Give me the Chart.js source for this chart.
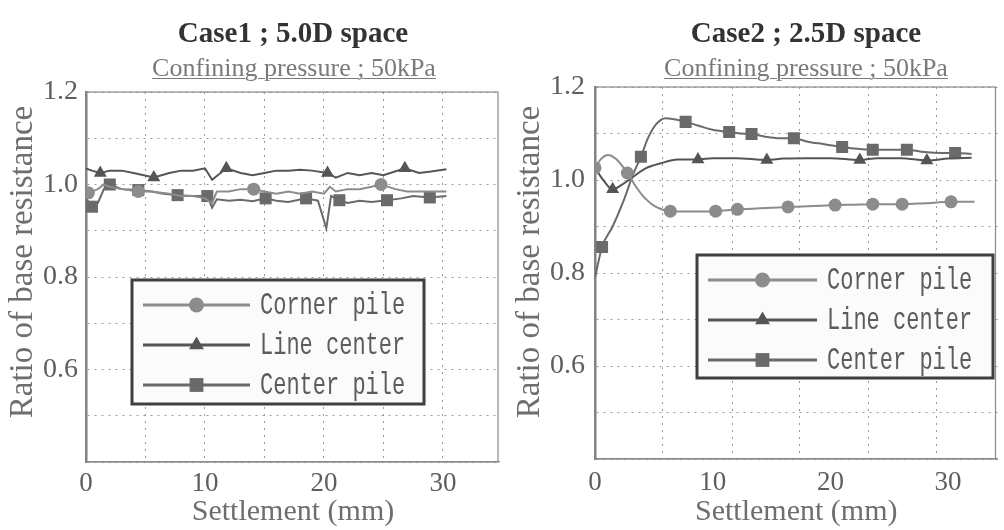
<!DOCTYPE html>
<html>
<head>
<meta charset="utf-8">
<script src="https://cdn.jsdelivr.net/npm/chart.js@4.4.1/dist/chart.umd.min.js"></script>
<style>
  html, body { margin: 0; padding: 0; background: #ffffff; }
  #wrap { position: relative; width: 1004px; height: 530px; overflow: hidden; background: #fff; }
  canvas { position: absolute; top: 0; }
  .ttl { position: absolute; width: 420px; text-align: center; font-family: "Liberation Serif", serif;
         white-space: nowrap; z-index: 2; }
  .main { font-weight: bold; font-size: 29px; line-height: 36px; color: #333; top: 14px; }
  .sub { font-size: 26px; line-height: 30px; color: #7a7a7a; top: 53px; }
  .sub span { text-decoration: underline; text-decoration-thickness: 1px; text-underline-offset: 2px; }
</style>
</head>
<body>
<div id="wrap">
  <canvas id="c1" width="500" height="530" style="left:0"></canvas>
  <canvas id="c2" width="504" height="530" style="left:500px"></canvas>
  <div class="ttl main" style="left:83px">Case1 ; 5.0D space</div>
  <div class="ttl sub" style="left:84px"><span>Confining pressure ; 50kPa</span></div>
  <div class="ttl main" style="left:596px">Case2 ; 2.5D space</div>
  <div class="ttl sub" style="left:596px"><span>Confining pressure ; 50kPa</span></div>
</div>
<script>
// ---- Shared labels ----
const seriesNames = ['Corner pile', 'Line center', 'Center pile'];
const yTickLabels = ['0.6', '0.8', '1.0', '1.2'];
const xTickLabels = ['0', '10', '20', '30'];
const yTitle = 'Ratio of base resistance';
const xTitle = 'Settlement (mm)';

// ---- Case 1 (5.0D spacing): settlement (mm) vs ratio of base resistance ----
const c1CornerX = [0, 0.2, 1, 1.5, 2, 3, 4.4, 5.5, 7, 8, 9, 10, 10.6, 11, 12, 13, 14.1, 15, 16, 17, 18, 19, 20, 20.5, 21, 22, 23, 24, 24.8, 26, 27, 28, 29, 30.3];
const c1CornerY = [0.99, 0.982, 0.99, 1.0, 0.995, 0.99, 0.985, 0.985, 0.98, 0.975, 0.975, 0.97, 0.96, 0.985, 0.985, 0.99, 0.99, 0.985, 0.98, 0.985, 0.98, 0.985, 0.98, 0.995, 0.985, 0.99, 0.99, 0.995, 1.0, 0.99, 0.985, 0.985, 0.985, 0.985];
const c1CornerMarks = [1, 6, 16, 28];

const c1LineX = [0, 0.5, 1.2, 2, 3, 4, 5.7, 7, 8, 9, 10, 10.6, 11.8, 13, 14, 15, 16, 17, 18, 19, 20.3, 21, 22, 23, 24, 25, 26.8, 28, 29, 30.3];
const c1LineY = [1.035, 1.03, 1.025, 1.03, 1.03, 1.025, 1.015, 1.025, 1.03, 1.03, 1.035, 1.01, 1.035, 1.025, 1.02, 1.025, 1.03, 1.03, 1.032, 1.03, 1.025, 1.015, 1.025, 1.02, 1.025, 1.02, 1.035, 1.025, 1.028, 1.033];
const c1LineMarks = [2, 6, 12, 20, 26];

const c1CenterX = [0, 0.5, 1, 1.5, 2, 3, 4.4, 5.5, 6.5, 7.7, 9, 10.2, 10.6, 11, 12, 13, 14, 15.1, 16, 17, 18.5, 19.5, 20.2, 20.6, 21.3, 22, 23, 24, 25.3, 26.5, 27.5, 28.9, 30.3];
const c1CenterY = [0.97, 0.952, 0.96, 0.99, 1.0, 0.99, 0.988, 0.985, 0.98, 0.977, 0.975, 0.975, 0.95, 0.968, 0.965, 0.967, 0.964, 0.97, 0.965, 0.962, 0.97, 0.965, 0.905, 0.975, 0.966, 0.96, 0.965, 0.962, 0.966, 0.97, 0.975, 0.972, 0.975];
const c1CenterMarks = [1, 4, 6, 9, 11, 17, 20, 24, 28, 31];

// ---- Case 2 (2.5D spacing) ----
const c2CornerX = [0, 0.5, 1.1, 1.8, 2.75, 3.5, 4.2, 5, 6.4, 8, 10.25, 12.1, 14, 16.4, 18.5, 20.4, 22, 23.6, 26.1, 28, 30.25, 32.25];
const c2CornerY = [1.026, 1.045, 1.054, 1.045, 1.015, 0.985, 0.962, 0.945, 0.933, 0.932, 0.933, 0.937, 0.939, 0.942, 0.944, 0.946, 0.947, 0.948, 0.948, 0.95, 0.953, 0.953];
const c2CornerMarks = [0, 4, 8, 10, 11, 13, 15, 17, 18, 20];

const c2LineX = [0, 0.7, 1.5, 2.3, 3.2, 4.3, 5.6, 7, 8.75, 10, 12, 14.6, 16, 18, 20, 22.5, 24, 26, 28.2, 30, 32];
const c2LineY = [1.026, 1.0, 0.98, 0.99, 1.006, 1.025, 1.036, 1.044, 1.044, 1.047, 1.047, 1.043, 1.046, 1.047, 1.047, 1.043, 1.047, 1.047, 1.042, 1.046, 1.048];
const c2LineMarks = [2, 8, 11, 15, 18];

const c2CenterX = [0, 0.6, 1.5, 2.5, 3.2, 3.9, 4.5, 5.2, 6, 7.7, 9, 10, 11.4, 12.3, 13.3, 14.5, 15.5, 16.9, 18, 19.5, 21, 22.3, 23.6, 25, 26.5, 28, 29.5, 30.6, 32];
const c2CenterY = [0.79, 0.856, 0.9, 0.96, 1.01, 1.05, 1.09, 1.12, 1.133, 1.125, 1.115, 1.108, 1.103, 1.1, 1.099, 1.093, 1.09, 1.09, 1.083, 1.077, 1.071, 1.067, 1.065, 1.065, 1.065, 1.06, 1.058, 1.058, 1.056];
const c2CenterMarks = [1, 5, 9, 12, 14, 17, 20, 22, 24, 27];

// vertical grid positions of the Case 2 frame
const c2GridX = [5.7, 11.7, 17.4, 23.2, 29.0];

// ---- styling ----
const seriesStyle = [
  { color: '#8c8c8c', marker: 'circle',   radius: 6.5 },
  { color: '#555555', marker: 'triangle', radius: 7.5 },
  { color: '#6a6a6a', marker: 'rect',     radius: 8.5 }
];
const serif = 'Liberation Serif';
const gridColor = '#9a9a9a';

function pts(xs, ys) { return xs.map((x, i) => ({ x: x, y: ys[i] })); }

function makeDataset(k, xs, ys, marks, smooth) {
  const st = seriesStyle[k];
  return {
    label: seriesNames[k],
    data: pts(xs, ys),
    borderColor: st.color,
    backgroundColor: st.color,
    borderWidth: 2,
    pointStyle: st.marker,
    pointRadius: ctx => marks.includes(ctx.dataIndex) ? st.radius : 0,
    pointBorderWidth: 0,
    pointHoverRadius: 0,
    tension: smooth ? 0.4 : 0,
    cubicInterpolationMode: smooth ? 'monotone' : 'default'
  };
}

// Boxed legend drawn inside the plot area
const boxLegend = {
  id: 'boxLegend',
  afterDatasetsDraw(chart, args, opts) {
    const ctx = chart.ctx;
    const b = opts.box;
    ctx.save();
    ctx.fillStyle = '#fbfbfb';
    ctx.fillRect(b.x, b.y, b.w, b.h);
    ctx.strokeStyle = '#3f3f3f';
    ctx.lineWidth = 3;
    ctx.strokeRect(b.x, b.y, b.w, b.h);
    chart.data.datasets.forEach((ds, i) => {
      const st = seriesStyle[i];
      const ry = b.y + opts.rowTop + i * opts.rowGap;
      ctx.strokeStyle = st.color;
      ctx.lineWidth = 3;
      ctx.beginPath();
      ctx.moveTo(b.x + opts.lineStart, ry);
      ctx.lineTo(b.x + opts.lineEnd, ry);
      ctx.stroke();
      ctx.fillStyle = st.color;
      Chart.helpers.drawPoint(ctx, { pointStyle: st.marker, radius: st.radius * 1.15, rotation: 0, borderWidth: 0 },
        b.x + (opts.lineStart + opts.lineEnd) / 2, ry);
      ctx.save();
      ctx.translate(b.x + opts.textX, ry + 1);
      ctx.scale(1, 1.45);
      ctx.font = '22px "Liberation Mono"';
      ctx.fillStyle = '#5c5c5c';
      ctx.textBaseline = 'middle';
      ctx.fillText(ds.label, 0, 0);
      ctx.restore();
    });
    ctx.restore();
  }
};

// Plot frame and the rotated y-axis caption
const frame = {
  id: 'frame',
  beforeDatasetsDraw(chart, args, opts) {
    const a = chart.chartArea, ctx = chart.ctx;
    ctx.save();
    ctx.strokeStyle = '#8a8a8a';
    ctx.lineWidth = 1.2;
    ctx.strokeRect(a.left, a.top, a.right - a.left - 2, a.bottom - a.top);
    ctx.translate(opts.titleX, opts.titleY);
    ctx.rotate(-Math.PI / 2);
    ctx.font = '33px "' + serif + '"';
    ctx.fillStyle = '#6e6e6e';
    ctx.textAlign = 'center';
    ctx.textBaseline = 'middle';
    ctx.fillText(yTitle, 0, 0);
    ctx.restore();
  }
};

function yLabel(v) {
  const s = (Math.round(v * 10) / 10).toFixed(1);
  return yTickLabels.includes(s) ? s : '';
}
function xLabel(v) {
  const s = String(Math.round(v));
  return xTickLabels.includes(s) && Math.abs(v - Math.round(v)) < 1e-6 ? s : '';
}

function yAxis(axisWidth, tickPad) {
  return {
    min: 0.4, max: 1.2,
    afterFit: s => { s.width = axisWidth; },
    ticks: { stepSize: 0.1, callback: yLabel, color: '#5e5e5e', padding: tickPad,
             font: { family: serif, size: 28 } },
    grid: { color: gridColor, lineWidth: 1, drawTicks: false },
    border: { display: true, color: '#7a7a7a', width: 2.5, dash: [2, 5] }
  };
}

// x axis box: fixed height, no side overhang reserved for labels
function xFit(h) {
  return s => { s.height = h; s.paddingLeft = 0; s.paddingRight = 0; };
}

Chart.defaults.animation = false;

// ---- Case 1 chart ----
new Chart(document.getElementById('c1'), {
  type: 'line',
  data: {
    datasets: [
      makeDataset(0, c1CornerX, c1CornerY, c1CornerMarks, false),
      makeDataset(1, c1LineX, c1LineY, c1LineMarks, false),
      makeDataset(2, c1CenterX, c1CenterY, c1CenterMarks, false)
    ]
  },
  options: {
    responsive: false,
    devicePixelRatio: 1,
    layout: { padding: { top: 92, left: 0, right: 0, bottom: 0 } },
    plugins: {
      legend: { display: false }, tooltip: { enabled: false },
      frame: { titleX: 23, titleY: 262 },
      boxLegend: { box: { x: 132, y: 280, w: 292, h: 124 }, rowTop: 25, rowGap: 40,
                   lineStart: 11, lineEnd: 118, textX: 128 }
    },
    scales: {
      x: {
        type: 'linear', min: 0, max: 34.8,
        afterFit: xFit(68),
        ticks: { stepSize: 5, callback: xLabel, color: '#5e5e5e', padding: 6, maxRotation: 0,
                 autoSkip: false, includeBounds: false, font: { family: serif, size: 27 } },
        grid: { color: gridColor, lineWidth: 1, drawTicks: false },
        border: { display: true, color: '#8a8a8a', width: 1.2, dash: [2, 5] },
        title: { display: true, text: xTitle, color: '#6e6e6e',
                 font: { family: serif, size: 30 }, padding: { top: 0, bottom: 0 } }
      },
      y: yAxis(86, 8)
    }
  },
  plugins: [frame, boxLegend]
});

// ---- Case 2 chart ----
new Chart(document.getElementById('c2'), {
  type: 'line',
  data: {
    datasets: [
      makeDataset(0, c2CornerX, c2CornerY, c2CornerMarks, true),
      makeDataset(1, c2LineX, c2LineY, c2LineMarks, true),
      makeDataset(2, c2CenterX, c2CenterY, c2CenterMarks, true)
    ]
  },
  options: {
    responsive: false,
    devicePixelRatio: 1,
    layout: { padding: { top: 87, left: 0, right: 0, bottom: 0 } },
    plugins: {
      legend: { display: false }, tooltip: { enabled: false },
      frame: { titleX: 30, titleY: 262 },
      boxLegend: { box: { x: 197, y: 255, w: 296, h: 123 }, rowTop: 25, rowGap: 40,
                   lineStart: 11, lineEnd: 120, textX: 130 }
    },
    scales: {
      x: {
        type: 'linear', min: 0, max: 34.2,
        afterFit: xFit(71),
        ticks: { stepSize: 10, callback: xLabel, color: '#5e5e5e', padding: 8, maxRotation: 0,
                 autoSkip: false, includeBounds: false, font: { family: serif, size: 27 } },
        grid: { display: false, drawTicks: false },
        border: { display: true, color: '#8a8a8a', width: 1.2 },
        title: { display: true, text: xTitle, color: '#6e6e6e',
                 font: { family: serif, size: 30 }, padding: { top: 0, bottom: 0 } }
      },
      xg: {
        type: 'linear', position: 'bottom', min: 0, max: 34.2,
        afterBuildTicks: s => { s.ticks = c2GridX.map(v => ({ value: v })); },
        afterFit: xFit(0),
        ticks: { display: false },
        grid: { color: gridColor, lineWidth: 1, drawTicks: false },
        border: { display: false, dash: [2, 5] }
      },
      y: yAxis(95, 10)
    }
  },
  plugins: [frame, boxLegend]
});
</script>
</body>
</html>
